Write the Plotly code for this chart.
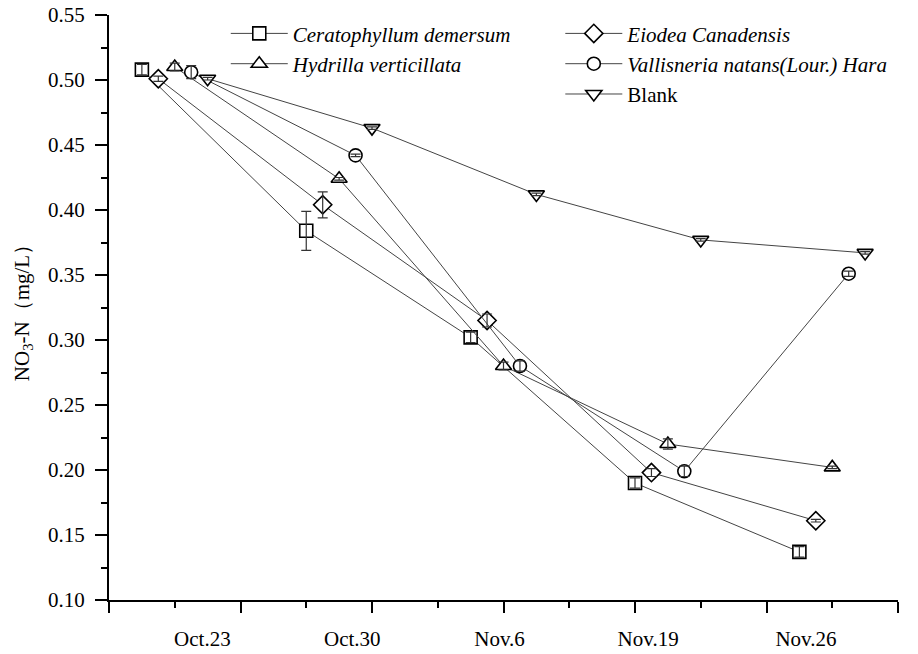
import plotly.graph_objects as go

dates = ["Oct.23", "Oct.30", "Nov.6", "Nov.19", "Nov.26"]
series_names = ["<i>Ceratophyllum demersum</i>", "<i>Eiodea Canadensis</i>",
                "<i>Hydrilla verticillata</i>", "<i>Vallisneria natans(Lour.) Hara</i>", "Blank"]
ceratophyllum = [0.508, 0.384, 0.302, 0.190, 0.137]
eiodea = [0.501, 0.404, 0.315, 0.198, 0.161]
hydrilla = [0.510, 0.424, 0.280, 0.220, 0.202]
vallisneria = [0.506, 0.442, 0.280, 0.199, 0.351]
blank = [0.501, 0.463, 0.412, 0.377, 0.367]

err_cera = [0.004, 0.015, 0.004, 0.004, 0.004]
err_eiod = [0.002, 0.010, 0.005, 0.003, 0.001]
err_hydr = [0.003, 0.001, 0.003, 0.004, 0.001]
err_vall = [0.005, 0.001, 0.004, 0.004, 0.002]
err_blank = [0.001, 0.001, 0.001, 0.001, 0.001]

values = [ceratophyllum, eiodea, hydrilla, vallisneria, blank]
errors = [err_cera, err_eiod, err_hydr, err_vall, err_blank]
symbols = ["square", "diamond", "triangle-up", "circle", "triangle-down"]
sizes = [13, 14, 14, 13, 14]
legends = ["legend", "legend2", "legend", "legend2", "legend2"]

FONT = "Liberation Serif"

# category layout (dodged groups)
group_start, group_step, dodge = 0.5, 1.25, 0.125

def xpos(j):
    return [group_start + group_step * i + (j - 2) * dodge for i in range(len(dates))]

fig = go.Figure()
for j, (name, vals) in enumerate(zip(series_names, values)):
    fig.add_trace(go.Scatter(
        x=xpos(j), y=vals, name=name, mode="lines+markers",
        line=dict(color="#444444", width=1),
        marker=dict(symbol=symbols[j], size=sizes[j], color="white",
                    line=dict(color="black", width=1.6)),
        legend=legends[j],
    ))
for j, (vals, err) in enumerate(zip(values, errors)):
    fig.add_trace(go.Scatter(
        x=xpos(j), y=vals, mode="markers", showlegend=False, xaxis="x2",
        marker=dict(size=1, opacity=0),
        error_y=dict(type="data", array=err, color="#333333", thickness=1.2, width=5),
        hoverinfo="skip",
    ))

label_pos = [0.71, 1.85, 2.97, 4.10, 5.30]

fig.update_layout(
    width=918, height=654,
    margin=dict(l=109, r=20, t=15, b=54),
    plot_bgcolor="white", paper_bgcolor="white",
    font=dict(family=FONT, size=21, color="black"),
    xaxis=dict(range=[0, 6], tickmode="array", tickvals=[0, 1, 2, 3, 4, 5, 6],
               showticklabels=False, ticks="outside", ticklen=11, tickwidth=1.6,
               tickcolor="black", showline=True, linecolor="black", linewidth=2,
               showgrid=False, zeroline=False, automargin=False,
               minor=dict(ticks="outside", dtick=0.5, tick0=0, ticklen=6,
                          tickwidth=1.6, tickcolor="black", showgrid=False)),
    xaxis2=dict(range=[0, 6], overlaying="x", anchor="y", side="bottom",
                tickmode="array", tickvals=label_pos, ticktext=dates,
                ticks="", showline=False, showgrid=False, zeroline=False,
                automargin=False,
                ticklabelstandoff=24, tickfont=dict(family=FONT, size=21)),
    yaxis=dict(range=[0.10, 0.55], tickmode="linear", tick0=0.10, dtick=0.05,
               tickformat=".2f", ticks="outside", ticklen=12, tickwidth=1.6,
               tickcolor="black", showline=True, linecolor="black", linewidth=2,
               showgrid=False, zeroline=False, ticklabelstandoff=6,
               automargin=False,
               tickfont=dict(family=FONT, size=21),
               minor=dict(ticks="outside", dtick=0.025, ticklen=6, tickwidth=1.6,
                          tickcolor="black", showgrid=False),
               title=dict(text="NO<sub>3</sub>-N\uff08mg/L\uff09",
                          font=dict(family=FONT, size=21), standoff=13)),
    legend=dict(x=0.148, y=1.003, xanchor="left", yanchor="top",
                bgcolor="rgba(0,0,0,0)", font=dict(family=FONT, size=21),
                itemwidth=57, tracegroupgap=0),
    legend2=dict(x=0.572, y=1.003, xanchor="left", yanchor="top",
                 bgcolor="rgba(0,0,0,0)", font=dict(family=FONT, size=21),
                 itemwidth=57, tracegroupgap=0),
)
fig.write_html("out.html")
